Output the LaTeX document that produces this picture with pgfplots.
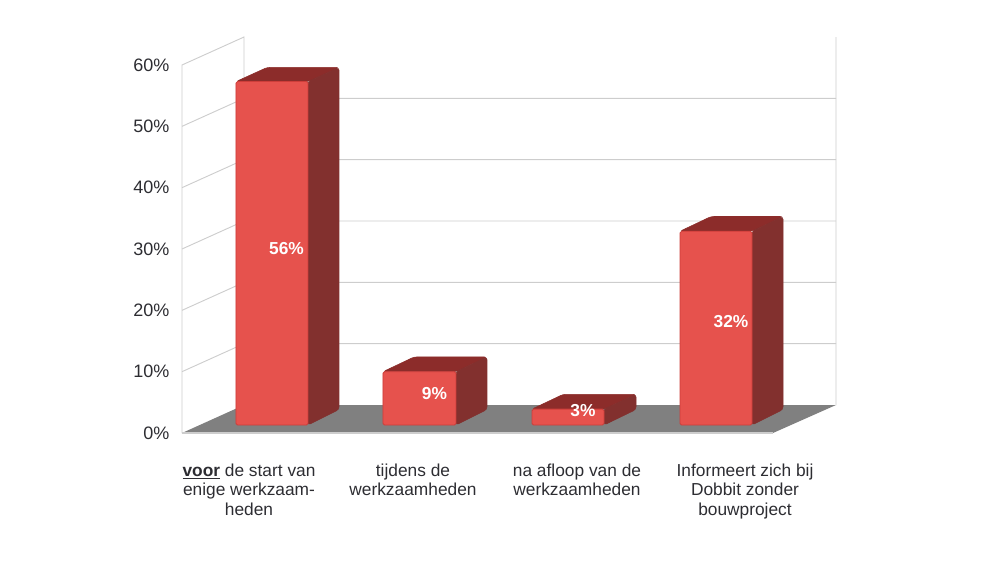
\documentclass[border=0pt]{standalone}
\usepackage{fontspec}
\setmainfont{Liberation Sans}
\usepackage{pgfplots}
\pgfplotsset{compat=1.18}
\definecolor{BarFront}{RGB}{230,82,77}
\definecolor{BarEdge}{RGB}{205,62,58}
\definecolor{BarTop}{RGB}{140,44,42}
\definecolor{BarSide}{RGB}{130,48,46}
\definecolor{Floor}{RGB}{128,128,128}
\definecolor{Wall}{RGB}{205,205,205}
\definecolor{Txt}{RGB}{45,45,50}
\tikzset{
    front/.style={fill=BarFront, draw=BarEdge, line width=0.6pt, rounded corners=1.2pt},
    top/.style={fill=BarTop, draw=BarTop, line width=0.4pt, rounded corners=2pt},
    side/.style={fill=BarSide, draw=BarSide, line width=0.4pt, rounded corners=2pt},
    val/.style={text=white, font=\fontsize{13}{15}\selectfont\bfseries},
}
\begin{document}
\begin{tikzpicture}
\begin{axis}[
    scale only axis,
    width=490.5pt, height=297pt,
    xmin=182, xmax=836,
    ymin=0, ymax=64.565,
    clip=false,
    axis line style={draw=none},
    major tick length=0pt,
    ytick={0,10,20,30,40,50,60},
    yticklabels={0\%,10\%,20\%,30\%,40\%,50\%,60\%},
    y tick label style={font=\fontsize{13.5}{15}\selectfont, text=Txt, xshift=-6pt},
    xtick={249,413,577,745},
    xticklabels={
        {\underline{\textbf{voor}} de start van\\enige werkzaam-\\heden},
        {tijdens de\\werkzaamheden},
        {na afloop van de\\werkzaamheden},
        {Informeert zich bij\\Dobbit zonder\\bouwproject}},
    x tick label style={font=\fontsize{13}{14.6}\selectfont, text=Txt, align=center, anchor=north, yshift=-19.5pt},
    xticklabel pos=lower,
    unbounded coords=jump,
]
% page extent
\path (axis cs:0,-21.2) rectangle (axis cs:1000,70.6);

% walls and grid
\addplot[Wall, line width=0.7pt] coordinates {
    (182,0) (182,60) (244,64.565) (244,4.565) (nan,nan)
    (836,64.565) (836,4.565)
};
\addplot[Wall, line width=0.7pt] coordinates {
    (182,10) (244,14.565) (836,14.565) (nan,nan)
    (182,20) (244,24.565) (836,24.565) (nan,nan)
    (182,30) (244,34.565) (836,34.565) (nan,nan)
    (182,40) (244,44.565) (836,44.565) (nan,nan)
    (182,50) (244,54.565) (836,54.565)
};
% floor
\addplot[fill=Floor, draw=none] coordinates {(182,0) (773,0) (836,4.565) (244,4.565)} --cycle;
\addplot[Wall, line width=0.8pt] coordinates {(182,0) (773,0)};

% bar 1: 56
\addplot[top] coordinates {(236,57.3) (267,59.6) (339,59.6) (308,57.3)} --cycle;
\addplot[side] coordinates {(308,1.3) (339,3.83) (339,59.6) (308,57.3)} --cycle;
\addplot[front] coordinates {(236,1.3) (308,1.3) (308,57.3) (236,57.3)} --cycle;
% bar 2: 8.7
\addplot[top] coordinates {(383,10) (414,12.4) (487,12.4) (456,10)} --cycle;
\addplot[side] coordinates {(456,1.3) (487,3.83) (487,12.4) (456,10)} --cycle;
\addplot[front] coordinates {(383,1.3) (456,1.3) (456,10) (383,10)} --cycle;
% bar 3: 2.6
\addplot[top] coordinates {(532,3.9) (563,6.3) (636,6.3) (604,3.9)} --cycle;
\addplot[side] coordinates {(604,1.3) (636,3.83) (636,6.3) (604,3.9)} --cycle;
\addplot[front] coordinates {(532,1.3) (604,1.3) (604,3.9) (532,3.9)} --cycle;
% bar 4: 31.6
\addplot[top] coordinates {(680,32.9) (711,35.3) (783,35.3) (752,32.9)} --cycle;
\addplot[side] coordinates {(752,1.3) (783,3.83) (783,35.3) (752,32.9)} --cycle;
\addplot[front] coordinates {(680,1.3) (752,1.3) (752,32.9) (680,32.9)} --cycle;

\node[val] at (axis cs:286.5,30) {56\%};
\node[val] at (axis cs:434.5,6.5) {9\%};
\node[val] at (axis cs:583,3.6) {3\%};
\node[val] at (axis cs:731,18.1) {32\%};
\end{axis}
\end{tikzpicture}
\end{document}
